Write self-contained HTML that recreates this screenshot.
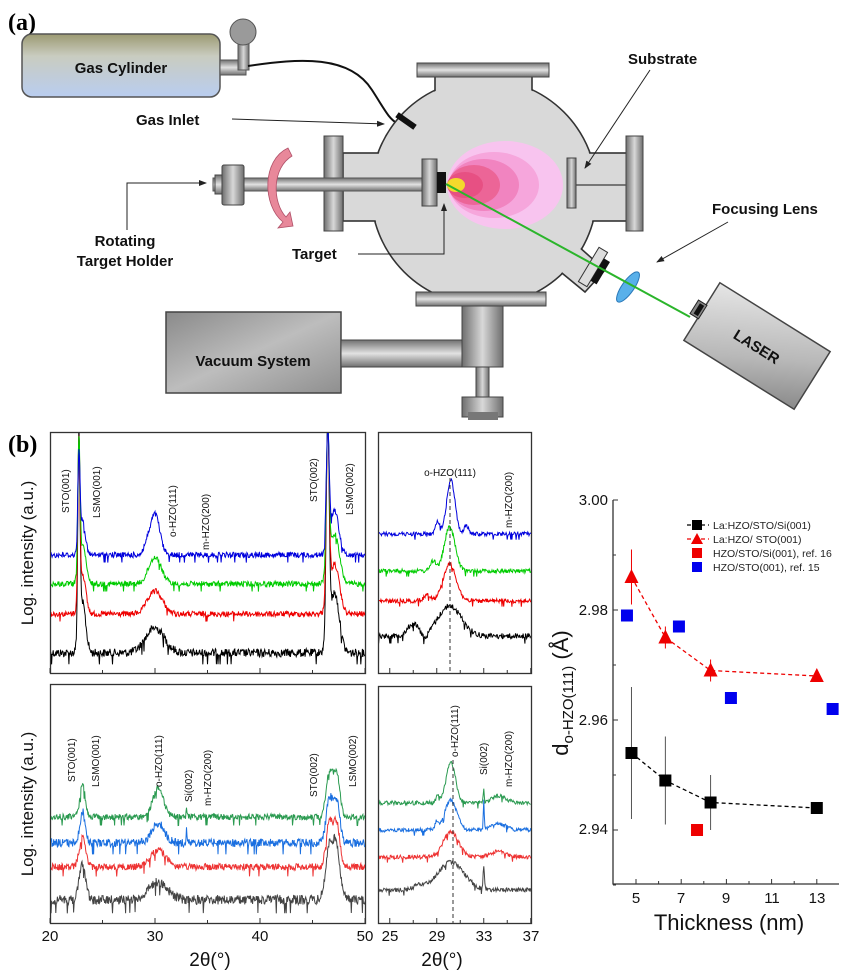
<!DOCTYPE html>
<html><head><meta charset="utf-8"><style>
html,body{margin:0;padding:0;background:#fff;}
svg{display:block;font-family:"Liberation Sans",sans-serif;}
.lb{font-weight:bold;font-size:15px;fill:#111;}
.ax{font-size:15px;fill:#111;}
.pl{font-size:10px;fill:#111;}
</style></head><body>
<svg id="s" width="852" height="977" viewBox="0 0 852 977" xmlns="http://www.w3.org/2000/svg">
<defs>
<linearGradient id="cyl" x1="0" y1="0" x2="0" y2="1"><stop offset="0" stop-color="#9c9a72"/><stop offset="0.35" stop-color="#c9ccc0"/><stop offset="1" stop-color="#b9cdf0"/></linearGradient>
<linearGradient id="gv" x1="0" y1="0" x2="1" y2="0"><stop offset="0" stop-color="#6e6e6e"/><stop offset="0.5" stop-color="#d8d8d8"/><stop offset="1" stop-color="#6e6e6e"/></linearGradient>
<linearGradient id="gh" x1="0" y1="0" x2="0" y2="1"><stop offset="0" stop-color="#707070"/><stop offset="0.5" stop-color="#e2e2e2"/><stop offset="1" stop-color="#707070"/></linearGradient>
<linearGradient id="box" x1="0" y1="0" x2="1" y2="1"><stop offset="0" stop-color="#8a8a8a"/><stop offset="0.5" stop-color="#bdbdbd"/><stop offset="1" stop-color="#8f8f8f"/></linearGradient>
<linearGradient id="las" x1="0" y1="0" x2="1" y2="1"><stop offset="0" stop-color="#e6e6e6"/><stop offset="0.6" stop-color="#b8b8b8"/><stop offset="1" stop-color="#8a8a8a"/></linearGradient>
<marker id="ar" markerWidth="8" markerHeight="8" refX="7" refY="4" orient="auto" markerUnits="userSpaceOnUse"><path d="M0,1 L8,4 L0,7 Z" fill="#222"/></marker>
<clipPath id="c1"><rect x="51" y="433" width="314" height="240"/></clipPath>
<clipPath id="c2"><rect x="379" y="433" width="152" height="240"/></clipPath>
<clipPath id="c3"><rect x="51" y="685" width="314" height="238"/></clipPath>
<clipPath id="c4"><rect x="379" y="687" width="152" height="236"/></clipPath>
</defs>

<text x="8" y="30" font-family="Liberation Serif" font-weight="bold" font-size="24" fill="#000">(a)</text>
<rect x="22" y="34" width="198" height="63" rx="10" fill="url(#cyl)" stroke="#555" stroke-width="1.5"/>
<text x="121" y="73" class="lb" text-anchor="middle" font-size="16">Gas Cylinder</text>
<rect x="220" y="60" width="26" height="15" fill="url(#gh)" stroke="#555"/>
<rect x="238" y="40" width="11" height="30" fill="url(#gv)" stroke="#555"/>
<circle cx="243" cy="32" r="13" fill="#9a9a9a" stroke="#555"/>
<path d="M248,66 C300,58 350,55 372,90 C385,110 388,118 398,124" fill="none" stroke="#111" stroke-width="2"/>

<g fill="#d9d9d9" stroke="#333" stroke-width="1.6">
<circle cx="484" cy="192" r="113"/>
<rect x="435" y="76" width="97" height="216"/>
<rect x="343" y="153" width="284" height="68"/>
<path d="M560,230 L605,270 L585,292 L540,255 Z"/>
</g>
<g fill="#d9d9d9">
<circle cx="484" cy="192" r="112"/>
<rect x="436" y="77" width="95" height="214"/>
<rect x="344" y="154" width="282" height="66"/>
<path d="M555,230 L603,270 L585,290 L535,250 Z"/>
</g>
<rect x="417" y="63" width="132" height="14" fill="url(#gh)" stroke="#444"/>
<rect x="416" y="292" width="130" height="14" fill="url(#gh)" stroke="#444"/>
<rect x="324" y="136" width="19" height="95" fill="url(#gv)" stroke="#444"/>
<rect x="626" y="136" width="17" height="95" fill="url(#gv)" stroke="#444"/>
<line x1="576" y1="185" x2="626" y2="185" stroke="#555" stroke-width="1.5"/>
<rect x="567" y="158" width="9" height="50" fill="url(#gv)" stroke="#444"/>
<rect x="213" y="178" width="212" height="13" fill="url(#gh)" stroke="#555"/>
<rect x="215" y="175" width="10" height="19" fill="url(#gh)" stroke="#444"/>
<rect x="222" y="165" width="22" height="40" rx="2" fill="url(#gv)" stroke="#444"/>
<rect x="422" y="159" width="15" height="47" fill="url(#gv)" stroke="#444"/>
<rect x="437" y="172" width="9" height="21" fill="#111"/>
<path d="M288,148 C262,160 262,205 283,222 L278,228 L293,226 L290,212 L286,217 C272,202 272,168 292,156 Z" fill="#e8889a" stroke="#b05068" stroke-width="0.8"/>
<ellipse cx="505" cy="185" rx="58" ry="44" fill="#f8c4ef"/>
<ellipse cx="494" cy="185" rx="45" ry="33" fill="#f6a6dc"/>
<ellipse cx="484" cy="185" rx="35" ry="26" fill="#f184c0"/>
<ellipse cx="474" cy="185" rx="26" ry="20" fill="#ec6597"/>
<ellipse cx="465" cy="185" rx="18" ry="13" fill="#e75083"/>
<ellipse cx="456" cy="185" rx="9" ry="7" fill="#f4d92c"/>
<rect x="395" y="118" width="22" height="6" fill="#111" transform="rotate(35 406 121)"/>
<g transform="rotate(31 593 267)">
<rect x="588" y="247" width="10" height="40" fill="#ddd" stroke="#333"/>
<rect x="598" y="254" width="7" height="26" fill="#111"/>
</g>
<ellipse cx="628" cy="287" rx="6" ry="18" fill="#58b0ea" stroke="#2a78b8" transform="rotate(35 628 287)"/>
<line x1="446" y1="184" x2="690" y2="317" stroke="#2bb52b" stroke-width="2"/>
<g transform="rotate(32 757 346)">
<rect x="692" y="312" width="130" height="68" fill="url(#las)" stroke="#444" stroke-width="1.5"/>
<rect x="683" y="338" width="10" height="16" fill="#888" stroke="#222"/>
<rect x="686" y="340" width="5" height="12" fill="#111"/>
<text x="757" y="352" class="lb" text-anchor="middle" font-size="16">LASER</text>
</g>
<rect x="166" y="312" width="175" height="81" fill="url(#box)" stroke="#444" stroke-width="1.5"/>
<text x="253" y="366" class="lb" text-anchor="middle" font-size="16">Vacuum System</text>
<rect x="341" y="340" width="125" height="27" fill="url(#gh)" stroke="#444"/>
<rect x="462" y="306" width="41" height="61" fill="url(#gv)" stroke="#444"/>
<rect x="476" y="367" width="13" height="32" fill="url(#gv)" stroke="#444"/>
<rect x="462" y="397" width="41" height="20" fill="url(#gv)" stroke="#444"/>
<rect x="468" y="412" width="30" height="8" fill="#777"/>
<text x="628" y="64" class="lb">Substrate</text>
<line x1="650" y1="70" x2="585" y2="168" stroke="#222" marker-end="url(#ar)"/>
<text x="136" y="125" class="lb">Gas Inlet</text>
<line x1="232" y1="119" x2="384" y2="124" stroke="#222" marker-end="url(#ar)"/>
<text x="712" y="214" class="lb">Focusing Lens</text>
<line x1="728" y1="222" x2="657" y2="262" stroke="#222" marker-end="url(#ar)"/>
<text x="125" y="246" class="lb" text-anchor="middle">Rotating</text>
<text x="125" y="266" class="lb" text-anchor="middle">Target Holder</text>
<polyline points="127,230 127,183 206,183" fill="none" stroke="#222" marker-end="url(#ar)"/>
<text x="292" y="259" class="lb">Target</text>
<polyline points="358,254 444,254 444,204" fill="none" stroke="#222" marker-end="url(#ar)"/>

<text x="8" y="452" font-family="Liberation Serif" font-weight="bold" font-size="24" fill="#000">(b)</text>
<g fill="none" stroke="#333" stroke-width="1.3">
<rect x="50.5" y="432.5" width="315" height="241"/>
<rect x="378.5" y="432.5" width="153" height="241"/>
<rect x="50.5" y="684.5" width="315" height="239"/>
<rect x="378.5" y="686.5" width="153" height="237"/>
</g>
<g id="curves"></g>
<g id="ticks" stroke="#333" stroke-width="1"></g>
<line x1="450" y1="478" x2="450" y2="673" stroke="#333" stroke-dasharray="4,3"/>
<line x1="453" y1="760" x2="453" y2="923" stroke="#333" stroke-dasharray="4,3"/>
<g class="ax">
<text x="50" y="941" text-anchor="middle">20</text><text x="155" y="941" text-anchor="middle">30</text><text x="260" y="941" text-anchor="middle">40</text><text x="365" y="941" text-anchor="middle">50</text>
<text x="390" y="941" text-anchor="middle">25</text><text x="437" y="941" text-anchor="middle">29</text><text x="484" y="941" text-anchor="middle">33</text><text x="531" y="941" text-anchor="middle">37</text>
<text x="210" y="966" text-anchor="middle" font-size="19">2θ(°)</text>
<text x="442" y="966" text-anchor="middle" font-size="19">2θ(°)</text>
<text transform="translate(33,553) rotate(-90)" text-anchor="middle" font-size="17">Log. intensity (a.u.)</text>
<text transform="translate(33,804) rotate(-90)" text-anchor="middle" font-size="17">Log. intensity (a.u.)</text>
</g>
<g class="pl">
<text transform="translate(69,513) rotate(-90)">STO(001)</text>
<text transform="translate(100,518) rotate(-90)">LSMO(001)</text>
<text transform="translate(176,537) rotate(-90)">o-HZO(111)</text>
<text transform="translate(209,550) rotate(-90)">m-HZO(200)</text>
<text transform="translate(317,502) rotate(-90)">STO(002)</text>
<text transform="translate(353,515) rotate(-90)">LSMO(002)</text>
<text x="450" y="476" text-anchor="middle">o-HZO(111)</text>
<text transform="translate(512,528) rotate(-90)">m-HZO(200)</text>
<text transform="translate(75,782) rotate(-90)">STO(001)</text>
<text transform="translate(99,787) rotate(-90)">LSMO(001)</text>
<text transform="translate(162,787) rotate(-90)">o-HZO(111)</text>
<text transform="translate(192,802) rotate(-90)">Si(002)</text>
<text transform="translate(211,806) rotate(-90)">m-HZO(200)</text>
<text transform="translate(317,797) rotate(-90)">STO(002)</text>
<text transform="translate(356,787) rotate(-90)">LSMO(002)</text>
<text transform="translate(458,757) rotate(-90)">o-HZO(111)</text>
<text transform="translate(487,775) rotate(-90)">Si(002)</text>
<text transform="translate(512,787) rotate(-90)">m-HZO(200)</text>
</g>

<g id="rp"></g>
<g class="ax" font-size="15">
<text x="608" y="505" text-anchor="end">3.00</text>
<text x="608" y="615" text-anchor="end">2.98</text>
<text x="608" y="725" text-anchor="end">2.96</text>
<text x="608" y="834" text-anchor="end">2.94</text>
<text x="636" y="903" text-anchor="middle">5</text><text x="681" y="903" text-anchor="middle">7</text><text x="726" y="903" text-anchor="middle">9</text><text x="772" y="903" text-anchor="middle">11</text><text x="817" y="903" text-anchor="middle">13</text>
<text x="729" y="930" text-anchor="middle" font-size="22">Thickness (nm)</text>
<text transform="translate(568,693) rotate(-90)" text-anchor="middle" font-size="22">d<tspan font-size="15" dy="5">o-HZO(111)</tspan><tspan dy="-5"> (Å)</tspan></text>
</g>
<g font-size="10.5" fill="#222">
<text x="713" y="529">La:HZO/STO/Si(001)</text>
<text x="713" y="543">La:HZO/ STO(001)</text>
<text x="713" y="557">HZO/STO/Si(001), ref. 16</text>
<text x="713" y="571">HZO/STO(001), ref. 15</text>
</g>
</svg>
<script>
(function(){
var NS="http://www.w3.org/2000/svg";
function el(t,a,p){var e=document.createElementNS(NS,t);for(var k in a)e.setAttribute(k,a[k]);p.appendChild(e);return e;}
var seed=12345;function rnd(){seed=(seed*1103515245+12345)%2147483648;return seed/2147483648;}
var cg=document.getElementById("curves");
function curve(clip,x0,d0,sc,da,db,base,peaks,amp,col){
 var d="";for(var t=da;t<=db;t+=0.05){var y=base;for(var i=0;i<peaks.length;i++){var p=peaks[i];var z=(t-p[0])/p[2];y-=p[1]*Math.exp(-z*z/2);}
 var r=rnd();y+= (r-0.5)*amp*0.7 + (r>0.97?amp*0.6:0);
 var x=x0+(t-d0)*sc;d+=(d?"L":"M")+x.toFixed(1)+","+y.toFixed(1);}
 el("path",{d:d,fill:"none",stroke:col,"stroke-width":"1","clip-path":"url(#"+clip+")"},cg);}
var L=[50,20,10.5];
curve("c1",L[0],L[1],L[2],20,50,653,[[22.75,200,0.1],[23.1,50,0.3],[30,25,0.9],[46.45,215,0.14],[47.1,60,0.45]],12,"#000");
curve("c1",L[0],L[1],L[2],20,50,614,[[22.75,160,0.1],[23.1,40,0.3],[30,23,0.7],[46.45,175,0.14],[47.1,50,0.45]],8,"#e00");
curve("c1",L[0],L[1],L[2],20,50,584,[[22.75,130,0.1],[23.1,40,0.3],[30,27,0.6],[46.45,145,0.14],[47.1,50,0.45]],8,"#0c0");
curve("c1",L[0],L[1],L[2],20,50,555,[[22.75,95,0.1],[23.1,35,0.25],[30,41,0.45],[29.2,8,0.3],[46.45,115,0.14],[47.1,45,0.4]],8,"#00d");
var R=[378,24,11.75];
curve("c2",R[0],R[1],R[2],24,37,636,[[30.1,30,1.0],[27,12,0.5],[28,-6,0.3]],8,"#000");
curve("c2",R[0],R[1],R[2],24,37,601,[[30.1,37,0.55],[28.2,6,0.3]],6,"#e00");
curve("c2",R[0],R[1],R[2],24,37,571,[[30.1,44,0.45],[28.7,10,0.25]],6,"#0c0");
curve("c2",R[0],R[1],R[2],24,37,534,[[30.2,54,0.35],[29.1,12,0.2],[31.5,8,0.2]],6,"#00d");
curve("c3",L[0],L[1],L[2],20,50,900,[[23.1,37,0.3],[30.3,18,0.9],[46.6,50,0.35],[47.3,50,0.35]],14,"#444");
curve("c3",L[0],L[1],L[2],20,50,867,[[23.1,29,0.3],[30.3,17,0.7],[46.6,44,0.3],[47.3,44,0.3]],10,"#e33");
curve("c3",L[0],L[1],L[2],20,50,843,[[23.1,31,0.25],[30.3,20,0.6],[33,12,0.05],[46.6,43,0.3],[47.3,43,0.3]],12,"#1a6fe0");
curve("c3",L[0],L[1],L[2],20,50,817,[[23.1,32,0.25],[30.3,29,0.5],[33,8,0.05],[46.6,44,0.3],[47.3,44,0.3]],9,"#2a9a50");
curve("c4",R[0],R[1],R[2],24,37,890,[[30.2,28,1.1],[33,22,0.06],[27.5,4,0.5]],6,"#444");
curve("c4",R[0],R[1],R[2],24,37,857,[[30.2,25,0.65],[34.3,6,0.6]],6,"#e33");
curve("c4",R[0],R[1],R[2],24,37,830,[[30.2,30,0.5],[29,8,0.15],[33,28,0.04],[34.3,6,0.6]],6,"#1a6fe0");
curve("c4",R[0],R[1],R[2],24,37,803,[[30.2,40,0.4],[29.1,8,0.15],[33,15,0.04],[34.3,7,0.6]],6,"#2a9a50");
var tg=document.getElementById("ticks");
for(var v=20;v<=50;v+=5){var x=50+(v-20)*10.5;var h=(v%10==0)?5:3;el("line",{x1:x,y1:673,x2:x,y2:673-h},tg);el("line",{x1:x,y1:923,x2:x,y2:923-h},tg);}
for(var v=25;v<=37;v+=2){var x=378+(v-24)*11.75;var h=((v-25)%4==0)?5:3;el("line",{x1:x,y1:673,x2:x,y2:673-h},tg);el("line",{x1:x,y1:923,x2:x,y2:923-h},tg);}
var g=document.getElementById("rp");
function X(t){return 636+(t-5)*22.6;}function Y(v){return 500+(3.0-v)*5500;}
el("polyline",{points:"613,500 613,884 839,884",fill:"none",stroke:"#333","stroke-width":"1.3"},g);
[3.0,2.98,2.96,2.94].forEach(function(v){el("line",{x1:613,y1:Y(v),x2:618,y2:Y(v),stroke:"#333"},g);});
[2.99,2.97,2.95,2.93].forEach(function(v){el("line",{x1:613,y1:Y(v),x2:616,y2:Y(v),stroke:"#333"},g);});
for(var t=5;t<=13;t++){el("line",{x1:X(t),y1:884,x2:X(t),y2:884-((t%2)?5:3),stroke:"#333"},g);}
var blk=[[4.8,2.954,0.012],[6.3,2.949,0.008],[8.3,2.945,0.005],[13,2.944,0.001]];
var red=[[4.8,2.986,0.005],[6.3,2.975,0.002],[8.3,2.969,0.002],[13,2.968,0.0005]];
function pl(a,c){el("polyline",{points:a.map(function(p){return X(p[0])+","+Y(p[1]);}).join(" "),fill:"none",stroke:c,"stroke-width":"1.3","stroke-dasharray":"4,3"},g);}
pl(blk,"#000");pl(red,"#e00");
blk.forEach(function(p){el("line",{x1:X(p[0]),y1:Y(p[1]-p[2]),x2:X(p[0]),y2:Y(p[1]+p[2]),stroke:"#555"},g);el("rect",{x:X(p[0])-6,y:Y(p[1])-6,width:12,height:12,fill:"#000"},g);});
red.forEach(function(p){el("line",{x1:X(p[0]),y1:Y(p[1]-p[2]),x2:X(p[0]),y2:Y(p[1]+p[2]),stroke:"#e00"},g);var x=X(p[0]),y=Y(p[1]);el("polygon",{points:(x-7)+","+(y+6)+" "+(x+7)+","+(y+6)+" "+x+","+(y-8),fill:"#e00"},g);});
el("rect",{x:X(7.7)-6,y:Y(2.940)-6,width:12,height:12,fill:"#e00"},g);
[[4.6,2.979],[6.9,2.977],[9.2,2.964],[13.7,2.962]].forEach(function(p){el("rect",{x:X(p[0])-6,y:Y(p[1])-6,width:12,height:12,fill:"#00e"},g);});
el("line",{x1:687,y1:525,x2:709,y2:525,stroke:"#000","stroke-dasharray":"4,3","stroke-width":"1.3"},g);
el("rect",{x:692,y:520,width:10,height:10,fill:"#000"},g);
el("line",{x1:687,y1:539,x2:709,y2:539,stroke:"#e00","stroke-dasharray":"4,3","stroke-width":"1.3"},g);
el("polygon",{points:"691,544 703,544 697,533",fill:"#e00"},g);
el("rect",{x:692,y:548,width:10,height:10,fill:"#e00"},g);
el("rect",{x:692,y:562,width:10,height:10,fill:"#00e"},g);
})();
</script>
</body></html>
